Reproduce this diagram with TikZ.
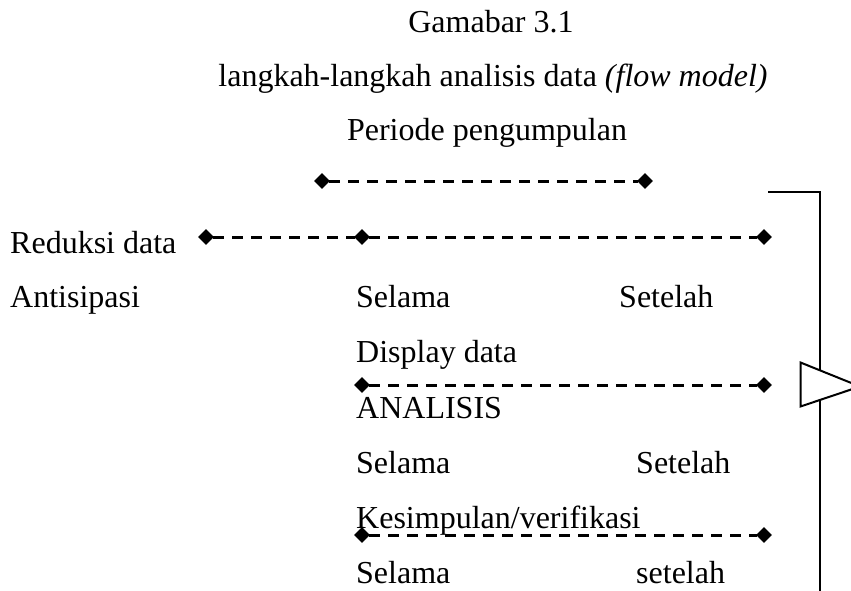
\documentclass[tikz,border=0pt]{standalone}
\usepackage{fontspec}
\setmainfont{Liberation Serif}
\usetikzlibrary{shapes.geometric}
\tikzset{
  txt/.style={anchor=base west, inner sep=0pt, font=\fontsize{32}{37}\selectfont},
  ttl/.style={anchor=base, inner sep=0pt, font=\fontsize{32}{37}\selectfont},
  dot/.style={diamond, fill=black, inner sep=0pt, minimum size=16pt},
  dline/.style={line width=3pt, dash pattern=on 11pt off 8pt, shorten >=-1pt, shorten <=-1pt},
  frame/.style={line width=2pt}
}
\begin{document}
\begin{tikzpicture}[x=1pt,y=-1pt]
\clip (0,0) rectangle (851,591);
\fill[white] (0,0) rectangle (851,591);
% titles
\node[ttl] (t1) at (491,33) {Gamabar 3.1};
\node[ttl] (t2) at (493,87) {langkah-langkah analisis data \textit{(flow model)}};
\node[ttl] (t3) at (487,140) {Periode pengumpulan};
% line 1
\node[dot] (a1) at (322,181) {};
\node[dot] (a2) at (645,181) {};
\draw[dline] (a1) -- (a2);
% line 2
\node[txt] (red) at (10,253) {Reduksi data};
\node[dot] (b1) at (206,237) {};
\node[dot] (b2) at (362,237) {};
\node[dot] (b3) at (764,237) {};
\draw[dline] (b1) -- (b2);
\draw[dline] (b2) -- (b3);
% row
\node[txt] (ant) at (10,307) {Antisipasi};
\node[txt] (s1) at (356,307) {Selama};
\node[txt] (e1) at (619,307) {Setelah};
\node[txt] (dis) at (356,362) {Display data};
% line 3
\node[dot] (c1) at (362,385) {};
\node[dot] (c2) at (764,385) {};
\draw[dline] (c1) -- (c2);
\node[txt] (ana) at (356,418) {ANALISIS};
\node[txt] (s2) at (356,473) {Selama};
\node[txt] (e2) at (636,473) {Setelah};
\node[txt] (kes) at (356,528) {Kesimpulan/verifikasi};
% line 4
\node[dot] (d1) at (362,535) {};
\node[dot] (d2) at (764,535) {};
\draw[dline] (d1) -- (d2);
\node[txt] (s3) at (356,583) {Selama};
\node[txt] (e3) at (636,583) {setelah};
% bracket and triangle
\coordinate (k0) at (768,192);
\coordinate (k1) at (820,192);
\coordinate (k2) at (820,600);
\draw[frame] (k0) -- (k1) -- (k2);
\coordinate (p1) at (800.5,362.5);
\coordinate (p2) at (800.5,406.5);
\coordinate (p3) at (860,386.5);
\filldraw[frame, fill=white] (p1) -- (p3) -- (p2) -- cycle;
\end{tikzpicture}
\end{document}
